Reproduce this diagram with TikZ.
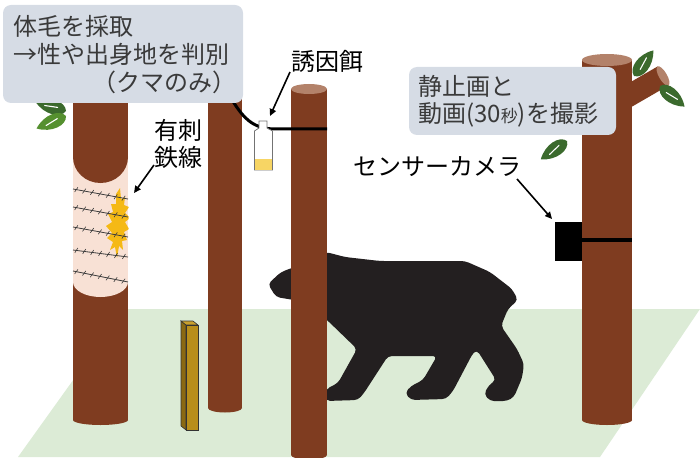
\documentclass[tikz,border=0pt]{standalone}
\usepackage{fontspec}
\newfontfamily\jp{Noto Sans CJK JP}
\usetikzlibrary{arrows.meta,decorations.markings}
\definecolor{bark}{HTML}{7F3C20}
\definecolor{barktop}{HTML}{B3826A}
\definecolor{groundc}{HTML}{DCEBD6}
\definecolor{calloutc}{HTML}{D6DCE5}
\definecolor{pinkc}{HTML}{F8E1D5}
\definecolor{hairc}{HTML}{F5B915}
\definecolor{leafc}{HTML}{3B6A2D}
\definecolor{leaflight}{HTML}{55902F}
\definecolor{bearc}{HTML}{231F20}
\definecolor{stakefront}{HTML}{B88E1A}
\definecolor{stakeside}{HTML}{8A6912}
\definecolor{staketop}{HTML}{C9A02E}
\definecolor{baitc}{HTML}{F7D564}
\definecolor{textc}{HTML}{3A3A3A}
\definecolor{wirec}{HTML}{3C3C3C}
\tikzset{
  trunk/.style={fill=bark},
  trunktop/.style={fill=barktop},
  callout/.style={fill=calloutc, rounded corners=8pt},
  calltext/.style={font=\jp\fontsize{24}{28}\selectfont, text=textc, inner sep=0pt, anchor=west},
  lbl/.style={font=\jp\fontsize{24}{28}\selectfont, text=black, inner sep=0pt},
  arr/.style={-{Triangle[length=7pt,width=6.5pt]}, line width=1.6pt},
  barbed/.style={draw=wirec, line width=0.8pt, postaction={decorate},
    decoration={markings, mark=between positions 0.06 and 0.97 step 8pt with
      {\draw[wirec, line width=0.6pt] (-1.2pt,-2.6pt) -- (1.2pt,2.6pt);}}},
  leaf/.pic={
    \fill[pic actions] (0,0) .. controls (3pt,9pt) and (20pt,10pt) .. (32pt,0pt)
      .. controls (20pt,-10pt) and (3pt,-9pt) .. (0,0);
    \draw[white, line width=1.1pt, line cap=round] (9pt,-1pt) -- (22pt,1pt);
  }
}
\begin{document}
\begin{tikzpicture}[x=1pt,y=-1pt]
\useasboundingbox (0,0) rectangle (700,457);

% ground
\fill[groundc] (18,457) -- (124,309) -- (700,309) -- (600,457) -- cycle;

% back tree
\fill[trunk] (208,95) rectangle (242,408);
\fill[trunk] (225,408) ellipse (17pt and 4.5pt);

% tree with barbed wire
\fill[trunk] (73,95) rectangle (128,420);
\fill[trunk] (100.5,420) ellipse (27.5pt and 5pt);
\fill[pinkc] (73,157) rectangle (128,282);
\fill[pinkc] (100.5,282) ellipse (27.5pt and 15pt);
\fill[trunk] (100.5,157) ellipse (27.5pt and 26pt);
\begin{scope}
  \clip (73,150) rectangle (128.5,300);
  \fill[hairc] (120,188) -- (121,199) -- (125,197) -- (124,205) -- (129,207)
    -- (125,213) -- (130,218) -- (125,222) -- (129,229) -- (124,232)
    -- (127,240) -- (122,241) -- (123,250) -- (119,246) -- (117,258)
    -- (115,247) -- (110,250) -- (113,242) -- (107,238) -- (112,233)
    -- (106,226) -- (112,222) -- (108,214) -- (113,212) -- (111,204)
    -- (116,204) -- (116,194) -- cycle;
\end{scope}
\foreach \ya/\yb in {189/199, 207/217, 227/237, 250/257, 271/282}
  \path[barbed] (73,\ya) -- (128,\yb);

% leaves on the left tree
\pic[fill=leafc, rotate=163] at (66,111) {leaf};
\pic[fill=leaflight, rotate=203] at (66,116) {leaf};

% stake
\fill[stakeside, draw=black!80, line width=0.6pt] (181,321) -- (186,325) -- (186,430) -- (181,426) -- cycle;
\fill[staketop, draw=black!80, line width=0.6pt] (181,321) -- (193,321) -- (198,325) -- (186,325) -- cycle;
\fill[stakefront, draw=black!80, line width=0.6pt] (186,325) rectangle (198,430);

% bear
\fill[bearc, rounded corners=4pt] (268,284) -- (281,272) -- (300,265) -- (326,252)
  -- (345,257) -- (380,261) -- (465,261) -- (490,272) -- (512,289) -- (518,300)
  -- (508,309) -- (501,326) -- (517,349) -- (524,364) -- (522,378) -- (514,397)
  -- (507,401) -- (490,401) -- (484,394) -- (489,385) -- (496,380) -- (477,350)
  -- (473,353) -- (453,391) -- (446,399) -- (411,400) -- (405,393) -- (411,386)
  -- (423,380) -- (437,356) -- (388,356) -- (364,393) -- (358,400) -- (326,401)
  -- (326,389) -- (338,383) -- (357,349) -- (327,320) -- (300,301) -- (276,297) -- cycle;

% front tree
\fill[trunk] (291,89) rectangle (327,455);
\fill[trunk] (309,455) ellipse (18pt and 4.5pt);
\fill[trunktop] (309,89) ellipse (18pt and 5pt);

% right tree with branch
\fill[trunk] (619.5,88.5) -- (657.5,66.5) -- (668.5,85.5) -- (630.5,107.5) -- cycle;
\begin{scope}[shift={(663,76)}, rotate=30]
  \fill[trunktop] (0,0) ellipse (4pt and 11pt);
\end{scope}
\fill[trunk] (582,60) rectangle (632,420);
\fill[trunk] (607,420) ellipse (25pt and 5pt);
\fill[trunktop] (607,60) ellipse (25pt and 6pt);
\pic[fill=leafc, rotate=53] at (634,76) {leaf};
\pic[fill=leafc, rotate=-40] at (660,86) {leaf};
\pic[fill=leafc, rotate=-145] at (567,141) {leaf};

% bait line and bottle
\coordinate (wirestart) at (231,98);
\coordinate (wireend) at (327,129);
\draw[black, line width=3pt] (wirestart) .. controls (245,122) and (256,129) .. (276,129) -- (wireend);
\filldraw[fill=white, draw=black!55, line width=0.8pt] (254.5,170) -- (254.5,131) -- (259,128)
  -- (259,121) -- (267,121) -- (267,128) -- (272.5,131) -- (272.5,170) -- cycle;
\fill[baitc] (255,159) rectangle (272,169.6);

% camera
\fill[black] (555,222) rectangle (582,261);
\draw[black, line width=3.5pt] (582,240) -- (632,240);

% callouts
\fill[callout] (3,5) rectangle (243,103);
\node[calltext] (t1a) at (13,26) {体毛を採取};
\node[calltext] (t1b) at (13,54) {→性や出身地を判別};
\node[calltext] (t1c) at (92,82) {（クマのみ）};

\fill[callout] (409,67) rectangle (616,135);
\node[calltext] (t2a) at (418,86) {静止画と};
\node[calltext] (t2b) at (418,115) {動画(30{\fontsize{17}{20}\selectfont 秒})を撮影};

% labels and pointers
\node[lbl] (lw1) at (178,130) {有刺};
\node[lbl] (lw2) at (178,157) {鉄線};
\node[lbl] (lbait) at (327,61) {誘因餌};
\node[lbl] (lcam) at (437,167) {センサーカメラ};

\coordinate (wirefrom) at (154,165);
\coordinate (wiretip) at (134,193);
\coordinate (baitfrom) at (290,72);
\coordinate (baittip) at (270,116);
\coordinate (camfrom) at (517,179);
\coordinate (camtip) at (552,219);
\draw[arr] (wirefrom) -- (wiretip);
\draw[arr] (baitfrom) -- (baittip);
\draw[arr] (camfrom) -- (camtip);
\end{tikzpicture}
\end{document}
